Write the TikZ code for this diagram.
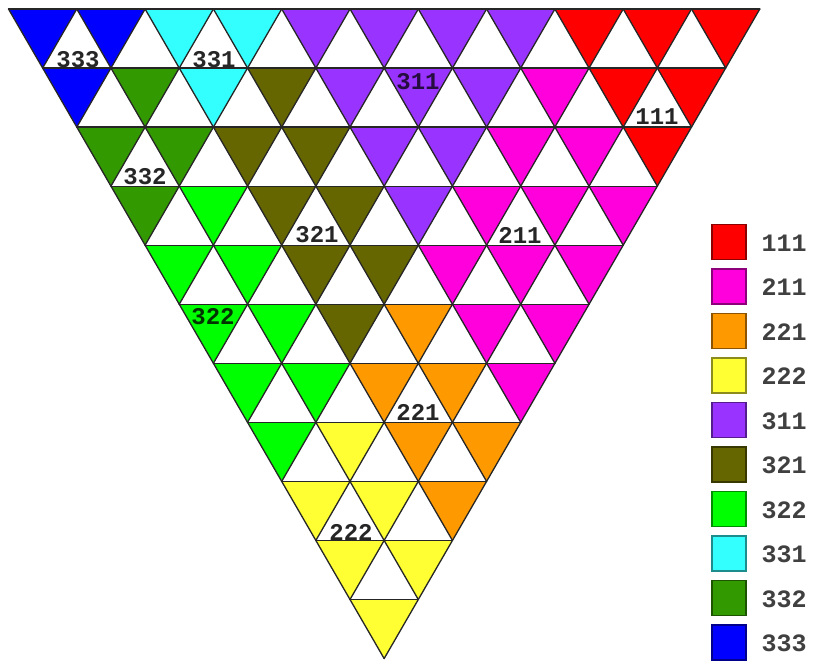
\documentclass[tikz,border=0pt]{standalone}
\usepackage{fontspec}
\newfontfamily\lblfont{Liberation Mono}
\definecolor{cR}{HTML}{FF0000}
\definecolor{cM}{HTML}{FF00DD}
\definecolor{cA}{HTML}{FF9900}
\definecolor{cY}{HTML}{FFFF33}
\definecolor{cP}{HTML}{9933FF}
\definecolor{cO}{HTML}{666600}
\definecolor{cG}{HTML}{00FF00}
\definecolor{cC}{HTML}{33FFFF}
\definecolor{cD}{HTML}{339900}
\definecolor{cB}{HTML}{0000FF}
\tikzset{
  gridline/.style={line width=1.3pt, draw=black!85, line cap=round},
  lbl/.style={font=\lblfont\bfseries\fontsize{24}{24}\selectfont, inner sep=0pt, text=black!85},
  legbox/.style={minimum width=34pt, minimum height=35pt, inner sep=0pt, line width=1.2pt},
  legtxt/.style={font=\lblfont\bfseries\fontsize{25}{25}\selectfont, inner sep=0pt, text=black!75}
}
\begin{document}
\begin{tikzpicture}[x=1pt,y=-1pt]
\useasboundingbox (0,0) rectangle (814,661);
\fill[white] (0,0) rectangle (814,661);
\def\xo{8.5}\def\yo{9}\def\s{68.3}\def\h{59.05}
\foreach \r/\row in {0/{B,B,C,C,P,P,P,P,R,R,R}, 1/{B,D,C,O,P,P,P,M,R,R}, 2/{D,D,O,O,P,P,M,M,R}, 3/{D,G,O,O,P,M,M,M}, 4/{G,G,O,O,M,M,M}, 5/{G,G,O,A,M,M}, 6/{G,G,A,A,M}, 7/{G,Y,A,A}, 8/{Y,Y,A}, 9/{Y,Y}, 10/{Y}}{
  \foreach \c [count=\k from 0] in \row {
    \fill[fill=c\c] ({\xo+\r*\s/2+\k*\s},{\yo+\r*\h}) -- ++(\s,0) -- ++({-\s/2},\h) -- cycle;
  }
}
\foreach \i in {0,...,11} {
  \draw[gridline] ({\xo+\i*\s/2},{\yo+\i*\h}) -- ({\xo+11*\s-\i*\s/2},{\yo+\i*\h});
  \draw[gridline] ({\xo+\i*\s},\yo) -- ({\xo+\i*\s+(11-\i)*\s/2},{\yo+(11-\i)*\h});
  \draw[gridline] ({\xo+\i*\s},\yo) -- ({\xo+\i*\s/2},{\yo+\i*\h});
}
\node[lbl] (l333) at (78,60) {333};
\node[lbl] (l331) at (214,60) {331};
\node[lbl, text=cP!25!black] (l311) at (418,82) {311};
\node[lbl] (l111) at (657,117) {111};
\node[lbl] (l332) at (145,177) {332};
\node[lbl] (l321) at (317,235) {321};
\node[lbl] (l211) at (520,235) {211};
\node[lbl, text=cG!20!black] (l322) at (213,317) {322};
\node[lbl] (l221) at (418,412) {221};
\node[lbl] (l222) at (351,532) {222};
\foreach \col/\txt [count=\i from 0] in {R/111, M/211, A/221, Y/222, P/311, O/321, G/322, C/331, D/332, B/333} {
  \node[legbox, fill=c\col, draw=c\col!55!black] (box\txt) at (729,{242+44.5*\i}) {};
  \node[legtxt] (txt\txt) at (784,{243+44.5*\i}) {\txt};
}
\end{tikzpicture}
\end{document}
